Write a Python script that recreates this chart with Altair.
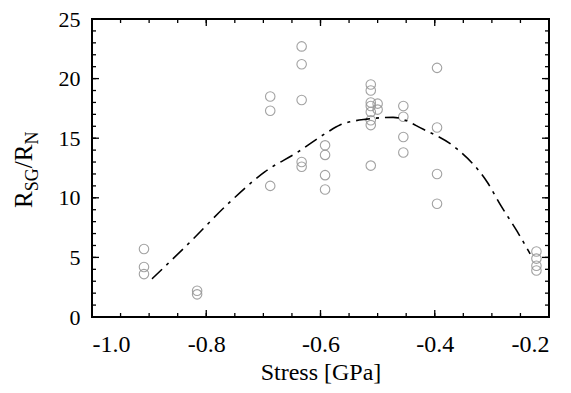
import altair as alt
import pandas as pd

# scatter data (stress GPa, R_SG/R_N)
pt_x = [-0.909, -0.909, -0.909,
        -0.816, -0.816,
        -0.688, -0.688, -0.688,
        -0.633, -0.633, -0.633, -0.633, -0.633,
        -0.592, -0.592, -0.592, -0.592,
        -0.512, -0.512, -0.512, -0.512, -0.512, -0.512, -0.512, -0.512,
        -0.50, -0.50,
        -0.455, -0.455, -0.455, -0.455,
        -0.396, -0.396, -0.396, -0.396,
        -0.222, -0.222, -0.222, -0.222]
pt_y = [5.7, 4.2, 3.6,
        2.2, 1.9,
        18.5, 17.3, 11.0,
        22.7, 21.2, 18.2, 13.0, 12.6,
        14.4, 13.6, 11.9, 10.7,
        19.5, 19.0, 18.0, 17.7, 17.2, 16.5, 16.1, 12.7,
        17.9, 17.4,
        17.7, 16.8, 15.1, 13.8,
        20.9, 15.9, 12.0, 9.5,
        5.5, 4.9, 4.3, 3.9]

# fitted curve
fit_x = [-0.895, -0.828, -0.764, -0.697, -0.641, -0.588, -0.566, -0.519, -0.473,
         -0.42, -0.361, -0.308, -0.285, -0.256, -0.233]
fit_y = [3.2, 6.3, 9.4, 12.2, 13.8, 15.5, 16.1, 16.6, 16.75,
         15.75, 14.1, 11.3, 9.4, 7.2, 5.3]

x_minor = [round(-1.0 + 0.05 * i, 2) for i in range(17)]
x_major = [-1.0, -0.8, -0.6, -0.4, -0.2]
y_minor = list(range(0, 26))
y_major = [0, 5, 10, 15, 20, 25]

W, H = 457, 298
FONT = "Liberation Serif"

xs = alt.Scale(domain=[-1.0, -0.2], nice=False, zero=False)
ys = alt.Scale(domain=[0, 25], nice=False)

pts = pd.DataFrame({"x": pt_x, "y": pt_y})
fit = pd.DataFrame({"x": fit_x, "y": fit_y})

base_axes = alt.Chart(pts).mark_point(
    shape="circle", filled=False, size=90, color="#999999", strokeWidth=1.1, opacity=0.9
).encode(
    x=alt.X("x:Q", scale=xs, axis=alt.Axis(
        values=x_major, title="Stress [GPa]",
        labelExpr="(datum.value < 0 ? '-' : '') + format(abs(datum.value), '.1f')",
        labelFontSize=24, labelPadding=15, titlePadding=4)),
    y=alt.Y("y:Q", scale=ys, axis=alt.Axis(values=y_major, title=None,
                                           labelFontSize=22, labelPadding=12)),
)

curve = alt.Chart(fit).mark_line(
    color="black", strokeWidth=1.6, strokeDash=[14, 6, 3, 6], interpolate="monotone"
).encode(x=alt.X("x:Q", scale=xs), y=alt.Y("y:Q", scale=ys))

def xticks(vals, length):
    d = pd.DataFrame({"x": vals})
    b = alt.Chart(d).mark_rule(color="black", strokeWidth=1.3)
    bot = b.encode(x=alt.X("x:Q", scale=xs), y=alt.value(H), y2=alt.value(H - length))
    top = b.encode(x=alt.X("x:Q", scale=xs), y=alt.value(0), y2=alt.value(length))
    return bot + top

def yticks(vals, length):
    d = pd.DataFrame({"y": vals})
    b = alt.Chart(d).mark_rule(color="black", strokeWidth=1.3)
    lef = b.encode(y=alt.Y("y:Q", scale=ys), x=alt.value(0), x2=alt.value(length))
    rig = b.encode(y=alt.Y("y:Q", scale=ys), x=alt.value(W), x2=alt.value(W - length))
    return lef + rig

# y-axis title with subscripts: R_SG / R_N
MAIN, SUB = 25, 18
title_parts = [("R", MAIN, 0, 0), ("SG", SUB, 16.7, 6), ("/R", MAIN, 39.7, 0), ("N", SUB, 63.4, 6)]
ytitle_layers = []
y_base = 189
x_base = -60
for txt, size, off, sub in title_parts:
    ytitle_layers.append(
        alt.Chart(pd.DataFrame({"t": [txt]})).mark_text(
            angle=270, align="left", baseline="alphabetic", font=FONT, fontSize=size, color="black"
        ).encode(text="t:N", x=alt.value(x_base + sub), y=alt.value(y_base - off))
    )

chart = alt.layer(
    base_axes, curve,
    xticks(x_minor, 4), xticks(x_major, 7),
    yticks(y_minor, 4), yticks(y_major, 7),
    *ytitle_layers
).properties(
    width=W, height=H,
    autosize=alt.AutoSizeParams(type="none"),
    padding={"left": 84, "top": 11, "right": 14, "bottom": 68},
    background="white",
).configure_view(stroke="black", strokeWidth=2
).configure_axis(
    ticks=False, domain=False, grid=False,
    labelFont=FONT, labelColor="black",
    titleFont=FONT, titleFontSize=24, titleFontWeight="normal", titleColor="black",
)

chart.save("out.html", embed_options={"renderer": "svg", "actions": False})
